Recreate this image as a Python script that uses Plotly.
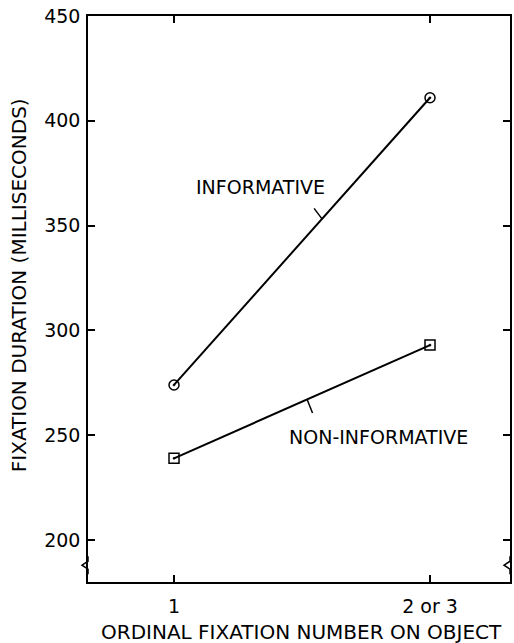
import plotly.graph_objects as go

# Data
x_labels = ["1", "2 or 3"]
x_pos = [1, 2]
informative = [274, 411]
non_informative = [239, 293]
y_ticks = [200, 250, 300, 350, 400, 450]

FONT = "DejaVu Sans"

fig = go.Figure()
fig.add_trace(go.Scatter(
    x=x_pos, y=informative, mode="lines+markers",
    line=dict(color="black", width=2),
    marker=dict(symbol="circle-open-dot", size=10, color="black", line=dict(width=1.5)),
    showlegend=False, cliponaxis=False))
fig.add_trace(go.Scatter(
    x=x_pos, y=non_informative, mode="lines+markers",
    line=dict(color="black", width=2),
    marker=dict(symbol="square-open-dot", size=10, color="black", line=dict(width=1.5)),
    showlegend=False, cliponaxis=False))

# labels with leader lines
fig.add_annotation(x=1.336, y=368.4, text="INFORMATIVE", showarrow=False,
                   font=dict(family=FONT, size=19, color="black"))
fig.add_annotation(x=1.578, y=353.2, text="", showarrow=True, arrowhead=0,
                   arrowwidth=1.5, arrowcolor="black", ax=-9, ay=-12)
fig.add_annotation(x=1.797, y=249.1, text="NON-INFORMATIVE", showarrow=False,
                   font=dict(family=FONT, size=19, color="black"))
fig.add_annotation(x=1.52, y=267.1, text="", showarrow=True, arrowhead=0,
                   arrowwidth=1.5, arrowcolor="black", ax=6, ay=15)

# axis titles
fig.add_annotation(xref="paper", yref="paper", x=-0.165, y=0.525, xanchor="center", yanchor="middle",
                   text="FIXATION DURATION (MILLISECONDS)", textangle=-90, showarrow=False,
                   font=dict(family=FONT, size=20, color="black"))
fig.add_annotation(xref="paper", yref="paper", x=0.505, y=-0.088, xanchor="center", yanchor="middle",
                   text="ORDINAL FIXATION NUMBER ON OBJECT", showarrow=False,
                   font=dict(family=FONT, size=20, color="black"))

# axis break marks
for xp in (0, 1):
    fig.add_shape(type="path", xref="paper", yref="y", xsizemode="pixel", ysizemode="pixel",
                  xanchor=xp, yanchor=188,
                  path="M 0,-9 L 0,-4 L -6,0 L 0,4 L 0,9",
                  line=dict(color="black", width=1.5))

fig.update_layout(
    width=514, height=643,
    margin=dict(l=88, r=4, t=16, b=61, autoexpand=False),
    paper_bgcolor="white", plot_bgcolor="white",
    font=dict(family=FONT, size=19, color="black"),
    xaxis=dict(range=[0.664, 2.3125], tickvals=x_pos, ticktext=x_labels, automargin=False,
               showgrid=False, zeroline=False, showline=True, linecolor="black",
               linewidth=1.5, mirror="ticks", ticks="inside", ticklen=7, tickcolor="black",
               tickwidth=1.5, ticklabelstandoff=6),
    yaxis=dict(range=[180, 450], tickvals=y_ticks, automargin=False,
               showgrid=False, zeroline=False, showline=True, linecolor="black",
               linewidth=1.5, mirror="ticks", ticks="inside", ticklen=7, tickcolor="black",
               tickwidth=1.5, ticklabelstandoff=2),
)

post = ("document.body.style.margin='0';document.body.style.overflow='hidden';"
        "var gd=document.getElementById('{plot_id}');"
        "Plotly.relayout(gd,{width:514,height:643});")
fig.write_html("out.html", post_script=post,
               config={"responsive": False, "displayModeBar": False})
